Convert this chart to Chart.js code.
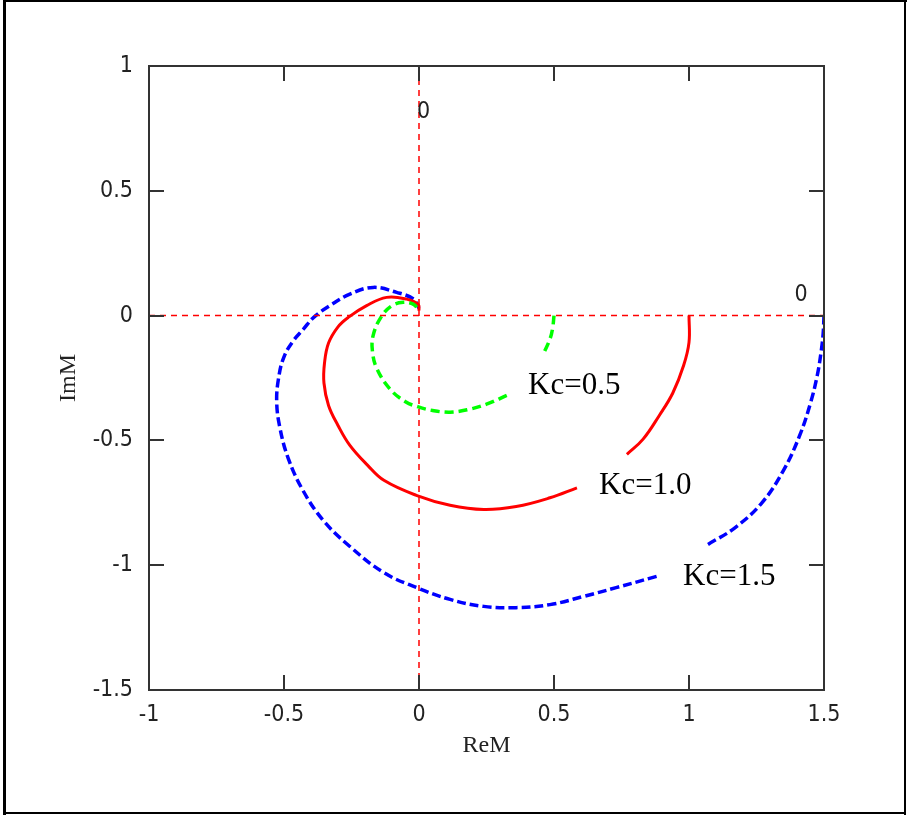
<!DOCTYPE html>
<html>
<head>
<meta charset="utf-8">
<script src="https://cdn.jsdelivr.net/npm/chart.js@4"></script>
<style>
  body { margin: 0; background: #fff; }
  canvas { display: block; }
</style>
</head>
<body>
<canvas id="nyquist" width="907" height="817"></canvas>
<script>
// Curves (null = gap hidden behind a label)
const k05Re = [0.50, 0.495, 0.485, 0.46, null, 0.325, 0.25, 0.18, 0.115, 0.05, -0.005, -0.05, -0.107, -0.155, -0.172, -0.17, -0.14, -0.10, -0.058, -0.02, 0.0];
const k05Im = [0.0, -0.05, -0.094, -0.155, null, -0.32, -0.355, -0.377, -0.387, -0.38, -0.365, -0.345, -0.295, -0.215, -0.147, -0.08, -0.005, 0.04, 0.053, 0.045, 0.02];

const k10Re = [1.0, 1.0, 0.98, 0.94, 0.89, 0.83, 0.77, null, 0.585, 0.485, 0.36, 0.24, 0.115, -0.01, -0.13, -0.19, -0.256, -0.30, -0.335, -0.352, -0.35, -0.335, -0.30, -0.262, -0.194, -0.12, -0.046, -0.003, 0.0];
const k10Im = [0.0, -0.107, -0.20, -0.31, -0.40, -0.495, -0.556, null, -0.69, -0.73, -0.765, -0.777, -0.76, -0.72, -0.66, -0.60, -0.52, -0.44, -0.36, -0.27, -0.19, -0.11, -0.045, -0.007, 0.04, 0.073, 0.066, 0.045, 0.02];

const k15Re = [1.5, 1.497, 1.49, 1.475, 1.45, 1.41, 1.35, 1.27, 1.17, 1.07, null, 0.88, 0.73, 0.61, 0.485, 0.36, 0.24, 0.115, -0.008, -0.13, -0.256, -0.355, -0.43, -0.485, -0.515, -0.527, -0.52, -0.50, -0.465, -0.428, -0.39, -0.33, -0.256, -0.17, -0.083, -0.02, 0.0];
const k15Im = [0.0, -0.07, -0.14, -0.24, -0.35, -0.48, -0.62, -0.75, -0.85, -0.917, null, -1.045, -1.09, -1.125, -1.158, -1.17, -1.165, -1.137, -1.09, -1.03, -0.925, -0.82, -0.70, -0.57, -0.45, -0.348, -0.25, -0.165, -0.1, -0.054, -0.007, 0.04, 0.086, 0.113, 0.093, 0.066, 0.03];

const curveLabels = ['Kc=0.5', 'Kc=1.0', 'Kc=1.5'];
const xTicks = [-1, -0.5, 0, 0.5, 1, 1.5];
const yTicks = [-1.5, -1, -0.5, 0, 0.5, 1];

const toPoints = (re, im) => re.map((v, i) => v === null ? {x: null, y: null} : {x: v, y: im[i]});

const tickFont = {family: "'Liberation Sans Narrow', 'DejaVu Sans Condensed', 'Liberation Sans', sans-serif", size: 23};
const serif = "'Liberation Serif', 'Times New Roman', serif";

// frame, inward ticks, the two "0" markers and the Kc labels
const decorations = {
    id: 'decorations',
    beforeDraw(chart) {
        const ctx = chart.ctx;
        ctx.save();
        ctx.fillStyle = '#fff';
        ctx.fillRect(0, 0, chart.width, chart.height);
        ctx.fillStyle = '#000';
        ctx.fillRect(3, 0, 3, 815);
        ctx.fillRect(3, 0, 904, 2);
        ctx.fillRect(904, 0, 2, 815);
        ctx.fillRect(3, 812, 903, 2);
        ctx.restore();
    },
    afterDatasetsDraw(chart) {
        const {ctx, chartArea: a, scales: {x, y}} = chart;
        ctx.save();
        ctx.strokeStyle = '#333';
        ctx.lineWidth = 2;
        ctx.strokeRect(a.left, a.top, a.right - a.left, a.bottom - a.top);
        ctx.beginPath();
        xTicks.forEach(v => {
            const px = Math.round(x.getPixelForValue(v));
            ctx.moveTo(px, a.bottom); ctx.lineTo(px, a.bottom - 15);
            ctx.moveTo(px, a.top); ctx.lineTo(px, a.top + 15);
        });
        yTicks.forEach(v => {
            const py = Math.round(y.getPixelForValue(v));
            ctx.moveTo(a.left, py); ctx.lineTo(a.left + 15, py);
            ctx.moveTo(a.right, py); ctx.lineTo(a.right - 15, py);
        });
        ctx.stroke();

        // "0" markers of the zero lines
        ctx.fillStyle = '#222';
        ctx.font = tickFont.size + 'px ' + tickFont.family;
        ctx.textBaseline = 'middle';
        ctx.textAlign = 'left';
        ctx.fillText('0', x.getPixelForValue(0) - 2, y.getPixelForValue(0.815));
        ctx.textAlign = 'center';
        ctx.fillText('0', x.getPixelForValue(1.415), y.getPixelForValue(0.082));

        // curve labels
        ctx.fillStyle = '#000';
        ctx.font = '31px ' + serif;
        ctx.textAlign = 'left';
        ctx.textBaseline = 'alphabetic';
        const spots = [[0.404, -0.315], [0.667, -0.716], [0.978, -1.078]];
        curveLabels.forEach((t, i) => {
            ctx.fillText(t, x.getPixelForValue(spots[i][0]), y.getPixelForValue(spots[i][1]));
        });
        ctx.restore();
    }
};

new Chart(document.getElementById('nyquist'), {
    type: 'scatter',
    data: {
        datasets: [
            {
                data: [{x: -1, y: 0}, {x: 1.5, y: 0}],
                showLine: true, borderColor: '#ff0000', borderWidth: 1.5, borderDash: [6, 5],
                pointRadius: 0
            },
            {
                data: [{x: 0, y: -1.5}, {x: 0, y: 1}],
                showLine: true, borderColor: '#ff0000', borderWidth: 1.5, borderDash: [6, 5],
                pointRadius: 0
            },
            {
                label: curveLabels[0],
                data: toPoints(k05Re, k05Im),
                showLine: true, borderColor: '#00ff00', borderWidth: 3.5, borderDash: [9, 5],
                pointRadius: 0, tension: 0.4, spanGaps: false
            },
            {
                label: curveLabels[1],
                data: toPoints(k10Re, k10Im),
                showLine: true, borderColor: '#ff0000', borderWidth: 3,
                pointRadius: 0, tension: 0.4, spanGaps: false
            },
            {
                label: curveLabels[2],
                data: toPoints(k15Re, k15Im),
                showLine: true, borderColor: '#0000ff', borderWidth: 3.5, borderDash: [9, 4],
                pointRadius: 0, tension: 0.4, spanGaps: false
            }
        ]
    },
    options: {
        responsive: false,
        animation: false,
        devicePixelRatio: 1,
        layout: {padding: {left: 0, top: 66, right: 83, bottom: 0}},
        plugins: {
            legend: {display: false},
            tooltip: {enabled: false}
        },
        scales: {
            x: {
                type: 'linear',
                min: -1, max: 1.5,
                grid: {display: false, drawTicks: false},
                border: {display: false},
                ticks: {
                    stepSize: 0.5, padding: 11, color: '#222', font: tickFont,
                    maxRotation: 0, autoSkip: false,
                    callback: v => String(v)
                },
                title: {
                    display: true, text: 'ReM', color: '#222',
                    font: {family: serif, size: 24},
                    padding: {top: 0, bottom: 57}
                },
                afterFit(scale) { scale.height = 127; }
            },
            y: {
                type: 'linear',
                min: -1.5, max: 1,
                grid: {display: false, drawTicks: false},
                border: {display: false},
                ticks: {
                    stepSize: 0.5, padding: 16, color: '#222', font: tickFont,
                    autoSkip: false,
                    callback: v => String(v)
                },
                title: {
                    display: true, text: 'ImM', color: '#222',
                    font: {family: serif, size: 24},
                    padding: {top: 54, bottom: 0}
                },
                afterFit(scale) { scale.width = 149; }
            }
        }
    },
    plugins: [decorations]
});
</script>
</body>
</html>
